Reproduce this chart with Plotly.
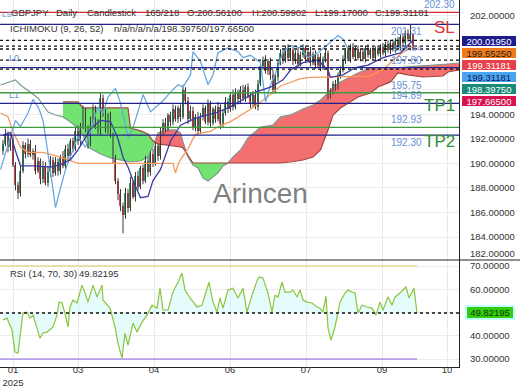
import plotly.graph_objects as go

FONT = "Liberation Sans"

# ---------------- data ----------------
first_open = 191.0
closes = [
    191.6, 192.4, 191.3, 191.9, 189.9, 188.2, 187.6, 189.4, 191.5, 190.8,
    191.6, 190.7, 191.0, 189.4, 190.2, 188.7, 189.8, 188.4, 189.3, 190.3,
    189.2, 190.1, 189.4, 190.5, 189.8, 191.2, 190.6, 191.8, 191.2, 192.6,
    191.8, 193.0, 194.3, 192.8, 191.6, 193.4, 194.5, 193.2, 192.6, 195.3,
    194.0, 192.8, 193.9, 192.3, 190.4, 188.6, 187.5, 186.5, 185.8, 187.6,
    186.4, 188.4, 187.3, 189.0, 188.1, 189.6, 188.6, 190.2, 189.3, 190.8,
    190.0, 191.4, 190.6, 192.4, 193.3, 192.8, 193.9, 193.4, 194.4, 193.6,
    194.5, 193.8, 196.0, 195.1, 193.6, 194.3, 193.0, 193.8, 192.6, 193.8,
    194.5, 193.4, 194.8, 193.3, 194.4, 193.6, 194.6, 193.2, 194.1, 195.0,
    194.4, 195.6, 194.6, 195.8, 195.2, 196.0, 195.3, 196.2, 195.5, 194.9,
    195.6, 194.6, 196.5, 197.9, 198.4, 197.5, 198.3, 197.2, 196.0, 197.0,
    198.2, 199.0, 198.4, 199.3, 198.6, 199.2, 198.3, 199.0, 198.1, 198.8,
    199.4, 198.5, 199.1, 198.2, 198.9, 198.0, 198.7, 197.8, 198.5, 199.0,
    195.6, 195.8, 196.5, 196.2, 197.2, 197.6, 198.4, 199.2, 198.5, 199.5,
    198.7, 199.3, 198.6, 199.1, 198.5, 199.4, 198.8, 199.2, 198.6, 199.3,
    198.9, 199.5, 199.0, 199.7, 199.2, 199.8, 199.3, 200.0, 199.5, 200.3,
    199.8, 200.6, 200.1, 200.561, 199.31181,
]
wick_up = [
    .3, .4, .2, .5, .3, .2, .3, .4, .3, .2, .4, .3, .2, .5, .3, .2, .4, .3, .5, .3,
    .2, .4, .3, .2, .5, .3, .4, .2, .3, .4, .5, .3, .4, .2, .3, .4, .3, .2, .4, .5,
    .3, .4, .2, .3, .2, .3, .2, .4, .3, .4, .3, .5, .2, .3, .4, .2, .3, .4, .3, .2,
    .4, .3, .2, .5, .3, .4, .2, .3, .4, .3, .2, .3, .4, .2, .3, .4, .3, .2, .4, .3,
    .3, .2, .4, .3, .2, .3, .4, .2, .3, .4, .3, .2, .4, .3, .2, .3, .4, .2, .3, .2,
    .3, .4, .3, .2, .3, .4, .2, .3, .4, .3, .2, .3, .2, .3, .4, .2, .3, .2, .4, .3,
    .3, .2, .3, .4, .2, .3, .2, .3, .2, .3, .2, .3, .2, .3, .2, .3, .4, .2, .3, .2,
    .3, .2, .3, .2, .3, .2, .3, .2, .3, .2, .3, .2, .3, .2, .3, .2, .3, .2, .3, .2,
    .3, .2, .3, .75, .038,
]
wick_dn = [
    .3, .2, .4, .3, .2, .4, .5, .3, .2, .4, .3, .2, .4, .3, .2, .4, .3, .2, .3, .4,
    .3, .2, .4, .3, .2, .3, .4, .2, .3, .2, .3, .4, .2, .3, .4, .2, .3, .4, .2, .3,
    .2, .3, .4, .2, .4, .3, .5, .4, 1.5, .3, .4, .3, .2, .4, .3, .2, .3, .2, .4, .3,
    .3, .2, .4, .3, .2, .3, .2, .4, .3, .2, .3, .4, .2, .3, .4, .2, .3, .4, .3, .2,
    .3, .2, .3, .4, .2, .3, .2, .4, .3, .2, .3, .2, .3, .2, .4, .3, .2, .3, .2, .4,
    .3, .2, .3, .2, .3, .2, .3, .4, .3, .2, .3, .2, .3, .2, .3, .2, .3, .2, .3, .2,
    .2, .3, .2, .3, .2, .3, .2, .3, .2, .3, .4, .3, .2, .3, .2, .3, .2, .3, .2, .3,
    .2, .3, .2, .3, .2, .3, .2, .3, .2, .3, .2, .3, .2, .3, .2, .3, .2, .3, .2, .3,
    .2, .3, .2, .2, .142,
]

# Ichimoku lines (bar index, price)
tenkan_x = [0, 3, 5, 7, 12, 19, 23, 27, 30, 35, 39, 43, 46, 48, 50, 52, 55, 58, 60, 63,
            67, 71, 75, 79, 85, 91, 96, 101, 107, 112, 115, 120, 126, 130, 131, 136, 141,
            146, 152, 159, 164]
tenkan_y = [192.3, 192.5, 191.0, 189.8, 189.8, 189.7, 189.9, 190.3, 191.1, 192.8, 193.5,
            193.4, 192.0, 190.5, 189.7, 188.6, 187.2, 187.3, 188.6, 189.5, 191.8, 193.1,
            193.5, 193.8, 194.1, 194.6, 195.2, 195.8, 196.2, 196.8, 197.6, 198.2, 198.4,
            197.6, 197.0, 197.2, 197.8, 198.0, 198.6, 199.0, 200.0195]
kijun_x = [-1, 2, 4, 7, 10, 16, 23, 30, 68, 69, 70, 71, 74, 77, 83, 87, 91, 95, 99, 103,
           107, 111, 115, 119, 123, 147, 153, 156, 161, 164]
kijun_y = [194.1, 193.8, 192.6, 191.3, 190.9, 190.9, 190.5, 190.0, 190.0, 189.2, 189.9,
           190.3, 191.2, 192.4, 192.6, 193.1, 193.4, 193.9, 194.4, 195.0, 195.6, 196.3,
           196.6, 196.9, 197.0, 197.1, 197.8, 198.4, 199.2, 199.5525]
chikou_x = [-1, 1, 3, 5, 7, 10, 12, 14, 15, 16, 18, 21, 23, 25, 28, 30, 33, 35, 38, 40,
            42, 45, 47, 50, 52, 55, 56, 59, 62, 64, 67, 70, 72, 75, 76, 79, 82, 84, 86,
            90, 94, 96, 99, 103, 105, 107, 110, 112, 115, 119, 122, 126, 130, 134, 136, 138]
chikou_y = [189.5, 190.8, 192.2, 193.5, 193.0, 194.1, 195.2, 194.6, 194.1, 193.5, 190.8,
            186.4, 188.0, 189.5, 191.1, 192.2, 191.3, 192.7, 194.6, 194.1, 195.4, 196.1,
            194.9, 192.1, 192.9, 194.9, 195.6, 194.2, 194.7, 195.1, 195.8, 196.4, 196.2,
            197.2, 199.1, 198.3, 196.4, 197.2, 199.0, 199.4, 199.1, 198.6, 198.8, 198.2,
            195.0, 196.4, 197.8, 199.1, 199.6, 199.4, 198.6, 199.0, 199.7, 200.4, 200.1,
            199.31181]
cloud_x = [-1, 3, 5, 7, 11, 14, 18, 21, 24, 27, 30, 32, 34, 39, 43, 47, 50, 51, 55, 58,
           60, 62, 65, 69, 71, 72, 74, 76, 78, 80, 82, 86, 88, 90, 92, 95, 98, 103, 108,
           111, 115, 120, 124, 127, 130, 132, 135, 138, 142, 147, 150, 155, 158, 162, 168,
           176, 178, 182.4]
span_a = [196.38, 196.63, 196.79, 196.38, 195.81, 195.32, 194.18, 193.94, 193.78, 193.37,
          192.88, 192.31, 191.33, 190.76, 190.44, 190.27, 190.19, 190.11, 190.19, 190.52,
          191.41, 192.47, 192.72, 192.72, 192.47, 191.74, 190.52, 189.87, 189.62, 188.81,
          188.56, 189.22, 189.79, 190.03, 190.52, 191.09, 192.07, 192.96, 193.12, 193.78,
          193.94, 194.43, 194.75, 195.16, 195.73, 196.22, 196.63, 196.95, 197.36, 197.77,
          197.77, 197.77, 197.77, 197.85, 197.93, 198.01, 198.09, 198.17]
span_b = [None, None, None, None, None, None, None, None, 195.00, 195.00,
          195.00, 194.51, 194.51, 194.51, 194.51, 194.51, 194.51, 192.88, 192.64, 192.39,
          191.82, 191.58, 191.50, 191.41, 191.33, 191.25, 190.68, 190.03, 190.03, 190.03,
          190.03, 190.03, 190.03, 190.03, 190.03, 190.03, 190.03, 190.03, 190.03, 190.03,
          190.11, 190.27, 190.52, 191.09, 192.72, 193.94, 194.51, 194.92, 195.40, 195.73,
          196.22, 196.63, 197.36, 197.20, 197.03, 197.11, 197.44, 197.60]

# RSI
rsi_x = [0, 1.6, 3.6, 4.8, 6, 7.6, 8, 9.6, 10.8, 12, 13.6, 14.8, 16, 17.6, 20, 21.6, 22.4,
         23.6, 24.8, 26, 26.8, 28, 29.6, 31.6, 32.8, 34, 36, 37.6, 39.6, 40, 42.8, 44.8, 46,
         47.6, 48.8, 50, 52, 53.6, 55.6, 57.6, 59.6, 61.6, 62.8, 64, 66, 68, 70, 71.6, 72.8,
         74.8, 77.6, 79.6, 80.8, 82.4, 84, 85.6, 86.8, 88, 90, 92, 94, 96, 97.6, 99.6, 102,
         102.8, 104, 106, 107.6, 108.8, 110, 111.6, 112.8, 114.8, 116, 117.6, 118.8, 120,
         121.6, 123.6, 125.6, 126.8, 128, 129.2, 130, 131.2, 132.8, 134.8, 136.8, 138,
         139.6, 140.8, 142, 143.6, 145.6, 147.6, 149.2, 150.8, 152, 154, 155.6, 156.8,
         158.8, 161.2, 162.4, 164.4, 165.6]
rsi_y = [46.8, 47.6, 42.5, 33.0, 32.6, 46.8, 49.8, 50.2, 47.6, 48.9, 43.8, 39.0, 41.2, 41.6,
         43.8, 48.9, 54.5, 54.1, 49.8, 43.8, 52.4, 55.4, 54.1, 61.8, 58.4, 54.5, 61.8, 56.7,
         61.8, 55.4, 51.9, 43.8, 36.9, 30.4, 41.2, 36.0, 45.5, 41.6, 45.9, 48.9, 53.2, 51.9,
         60.5, 51.1, 51.1, 58.8, 63.1, 67.0, 59.7, 56.3, 52.4, 53.2, 57.5, 63.1, 54.5, 50.2,
         56.3, 51.9, 59.7, 60.5, 56.3, 60.5, 50.2, 57.5, 64.8, 65.3, 64.8, 58.4, 50.2, 57.5,
         56.7, 63.1, 58.8, 58.8, 59.7, 56.7, 59.7, 55.4, 54.5, 54.1, 52.4, 51.9, 50.2, 57.1,
         43.3, 38.2, 43.8, 54.5, 58.4, 59.7, 58.8, 58.4, 49.8, 53.2, 52.4, 51.9, 48.9, 54.5,
         51.1, 56.7, 53.2, 56.7, 58.4, 61.0, 56.3, 60.5, 49.82195]
rsi_last = 49.82195
rsi_upper, rsi_lower = 70, 30

# levels
levels = [202.30, 201.31, 199.44, 197.80, 195.75, 194.89, 192.93, 192.30]
level_draw = [True, True, False, True, True, True, True, True]
level_colors = ["#d42a2a", "#22228a", "#22228a", "#22228a", "#3f9a3f", "#22228a", "#3f9a3f",
                "#22228a"]
level_texts = ["202.30", "201.31", "199.44", "197.80", "195.75", "194.89", "192.93", "192.30"]
level_label_xpx = [457, 424, 424, 424, 424, 424, 424, 424]
level_label_side = ["bottom", "top", "middle", "bottom", "bottom", "bottom", "bottom", "top"]
dotted_levels = [200.01950, 199.55250, 199.31181, 198.39750, 197.66500]
box_values = [200.01950, 199.55250, 199.31181, 199.31181, 198.39750, 197.66500]
box_bg = ["#1c1c8c", "#f07a1a", "#e8404a", "#4aa3f0", "#1a8a78", "#d8124c"]
box_fg = ["white", "#222222", "white", "#10204a", "white", "white"]
box_ypx = [41, 53, 65, 77, 89.5, 101.5]

# tick labels (those hidden behind the price boxes are blank)
price_ticks = [184, 186, 188, 190, 192, 194, 196, 198, 200, 202]
price_tick_text = ["184.00000", "186.00000", "188.00000", "190.00000", "192.00000",
                   "194.00000", "", "", "", "202.00000"]
rsi_ticks = [30, 40, 50, 60, 70]
rsi_tick_text = ["30.00000", "40.00000", "", "60.00000", "70.00000"]
month_pos = [4, 30, 60.4, 90.8, 121.2, 151.6, 177.6]
month_text = ["01<br>2025", "03", "04", "06", "07", "09", "10"]

header_tokens = ["GBPJPY", "Daily", "Candlestick", "165/218", "O:200.56100",
                 "H:200.59902", "L:199.17000", "C:199.31181"]
header_xpx = [9, 54, 85, 143, 185, 250, 313, 373]

# ---------------- derived ----------------
n = len(closes)
idx = list(range(n))
opens = [first_open] + closes[:-1]
highs = [max(o, c) + u for o, c, u in zip(opens, closes, wick_up)]
lows = [min(o, c) - d for o, c, d in zip(opens, closes, wick_dn)]

W, H = 520, 390
XR = [-1.2, 182.4]


def py(p):
    return 1 - p / H


def px(p):
    return p / W


fig = go.Figure()

# cloud fills
pts = [(x, a, b) for x, a, b in zip(cloud_x, span_a, span_b) if b is not None]
segs = []
sign = None
seg = []
for k, (x, a, b) in enumerate(pts):
    s = a >= b
    if sign is None:
        sign = s
        seg = [(x, a, b)]
    elif s == sign:
        seg.append((x, a, b))
    else:
        x0, a0, b0 = pts[k - 1]
        t = (a0 - b0) / ((a0 - b0) - (a - b))
        xc = x0 + t * (x - x0)
        yc = a0 + t * (a - a0)
        seg.append((xc, yc, yc))
        segs.append((sign, seg))
        seg = [(xc, yc, yc), (x, a, b)]
        sign = s
segs.append((sign, seg))
for s, sg in segs:
    xs = [p[0] for p in sg] + [p[0] for p in reversed(sg)]
    ys = [p[1] for p in sg] + [p[2] for p in reversed(sg)]
    fig.add_trace(go.Scatter(x=xs, y=ys, fill="toself", mode="lines",
                             line=dict(width=0),
                             fillcolor="rgba(243,104,104,0.95)" if s else "rgba(104,226,104,0.95)",
                             hoverinfo="skip"))

fig.add_trace(go.Scatter(x=cloud_x, y=span_a, mode="lines",
                         line=dict(color="#7f9a93", width=1.2)))
fig.add_trace(go.Scatter(x=cloud_x, y=span_b, mode="lines",
                         line=dict(color="#a5443c", width=1.2), connectgaps=False))

# candles: wicks then bodies
wx, wy = [], []
for i, hi, lo in zip(idx, highs, lows):
    wx += [i, i, None]
    wy += [lo, hi, None]
fig.add_trace(go.Scatter(x=wx, y=wy, mode="lines", line=dict(color="#3a3a3a", width=1)))
body_base = [min(o, c) for o, c in zip(opens, closes)]
body_h = [max(abs(c - o), 0.04) for o, c in zip(opens, closes)]
body_col = ["#2f9a68" if c >= o else "#e0474c" for o, c in zip(opens, closes)]
fig.add_trace(go.Bar(x=idx, y=body_h, base=body_base, width=0.75,
                     marker=dict(color=body_col, line=dict(width=0))))

# ichimoku lines
fig.add_trace(go.Scatter(x=kijun_x, y=kijun_y, mode="lines",
                         line=dict(color="#f39a5c", width=1.3)))
fig.add_trace(go.Scatter(x=chikou_x, y=chikou_y, mode="lines",
                         line=dict(color="#6aa8e0", width=1.3)))
fig.add_trace(go.Scatter(x=tenkan_x, y=tenkan_y, mode="lines",
                         line=dict(color="#3a3aa6", width=1.3)))

# RSI
fig.add_trace(go.Scatter(x=rsi_x, y=[rsi_last] * len(rsi_x), mode="lines",
                         line=dict(width=0), xaxis="x2", yaxis="y2", hoverinfo="skip"))
fig.add_trace(go.Scatter(x=rsi_x, y=rsi_y, mode="lines", fill="tonexty",
                         fillcolor="rgba(205,250,250,0.55)",
                         line=dict(color="#8cc43c", width=1.2), xaxis="x2", yaxis="y2"))
fig.add_trace(go.Scatter(x=[XR[0], rsi_x[-1]], y=[rsi_upper, rsi_upper], mode="lines",
                         line=dict(color="#e2d894", width=1.6), xaxis="x2", yaxis="y2"))
fig.add_trace(go.Scatter(x=[XR[0], rsi_x[-1]], y=[rsi_lower, rsi_lower], mode="lines",
                         line=dict(color="#b49ee8", width=1.6), xaxis="x2", yaxis="y2"))

shapes = []
for lv, col, draw in zip(levels, level_colors, level_draw):
    if draw:
        shapes.append(dict(type="line", xref="x domain", yref="y", x0=0, x1=1, y0=lv, y1=lv,
                           line=dict(color=col, width=1.3), layer="above"))
for lv in dotted_levels:
    shapes.append(dict(type="line", xref="x domain", yref="y", x0=0, x1=1, y0=lv, y1=lv,
                       line=dict(color="#111111", width=1.3, dash="dot"), layer="above"))
shapes.append(dict(type="line", xref="x2 domain", yref="y2", x0=0, x1=1, y0=rsi_last,
                   y1=rsi_last, line=dict(color="#111111", width=1.3, dash="dot"), layer="above"))
shapes.append(dict(type="line", xref="paper", yref="paper", x0=0, x1=1, y0=py(260), y1=py(260),
                   line=dict(color="#222222", width=1)))

ann = []
small = dict(family=FONT, size=9.5, color="#333333")
for t, xp in zip(header_tokens, header_xpx):
    ann.append(dict(text=t, x=px(xp), y=py(12), xref="paper", yref="paper",
                    xanchor="left", yanchor="middle", showarrow=False, font=small))
ann.append(dict(text="ICHIMOKU (9, 26, 52)", x=px(8), y=py(29), xref="paper", yref="paper",
                xanchor="left", yanchor="middle", showarrow=False, font=small))
ann.append(dict(text="n/a/n/a/n/a/198.39750/197.66500", x=px(112), y=py(29), xref="paper",
                yref="paper", xanchor="left", yanchor="middle", showarrow=False, font=small))
ann.append(dict(text="RSI (14, 70, 30)", x=px(8), y=py(273), xref="paper", yref="paper",
                xanchor="left", yanchor="middle", showarrow=False, font=small))
ann.append(dict(text="%.5f" % rsi_last, x=px(77), y=py(273), xref="paper", yref="paper",
                xanchor="left", yanchor="middle", showarrow=False, font=small))
# level labels
for lv, t, xp, side in zip(levels, level_texts, level_label_xpx, level_label_side):
    ann.append(dict(text=t, x=px(xp), y=lv, xref="paper", yref="y", xanchor="right",
                    yanchor=side, showarrow=False,
                    font=dict(family=FONT, size=9.5 if side == "middle" else 10,
                              color="#6b8fd4")))
for t, yp, xp, sz in [("LS", 15, 0, 8), ("L0", 58, 7, 9), ("L1", 95, 7, 9)]:
    ann.append(dict(text=t, x=px(xp), y=py(yp), xref="paper", yref="paper", xanchor="left",
                    yanchor="middle", showarrow=False,
                    font=dict(family=FONT, size=sz, color="#5b8fd0")))
for t, xp, yp, col in [("SL", 444, 28, "#e03535"), ("TP1", 439, 106, "#2f8f2f"),
                       ("TP2", 439, 141, "#2f8f2f")]:
    ann.append(dict(text=t, x=px(xp), y=py(yp), xref="paper", yref="paper", xanchor="center",
                    yanchor="middle", showarrow=False,
                    font=dict(family=FONT, size=17, color=col)))
ann.append(dict(text="Arincen", x=px(260), y=py(193), xref="paper", yref="paper",
                xanchor="center", yanchor="middle", showarrow=False,
                font=dict(family=FONT, size=28, color="rgba(110,110,110,0.9)")))
# right price boxes
for v, bg, fg, yp in zip(box_values, box_bg, box_fg, box_ypx):
    ann.append(dict(text="%.5f" % v, x=px(462), y=py(yp), xref="paper", yref="paper",
                    xanchor="left", yanchor="middle", showarrow=False, bgcolor=bg,
                    borderwidth=0, width=54, height=10, borderpad=0, align="center",
                    font=dict(family=FONT, size=9.5, color=fg)))
ann.append(dict(text="182.00000", x=px(468), y=py(253), xref="paper", yref="paper",
                xanchor="left", yanchor="middle", showarrow=False, font=small))
ann.append(dict(text="%.5f" % rsi_last, x=px(465), y=rsi_last, xref="paper", yref="y2",
                xanchor="left", yanchor="middle", showarrow=False, bgcolor="#33cc11",
                bordercolor="#c4ffff", borderwidth=2, width=46, height=11, borderpad=0,
                font=dict(family=FONT, size=9.5, color="#0f3a00")))

axis_font = dict(family=FONT, size=9.5, color="#333333")
fig.update_layout(
    width=W, height=H, margin=dict(l=0, r=0, t=0, b=0),
    paper_bgcolor="white", plot_bgcolor="white", showlegend=False,
    bargap=0,
    xaxis=dict(domain=[0, 459 / W], range=XR, anchor="y", showticklabels=False,
               tickvals=month_pos, showgrid=True, gridcolor="#e9e9e9", zeroline=False,
               showline=False, ticks=""),
    yaxis=dict(domain=[py(260), 1], range=[182.13, 203.3], side="right", anchor="x",
               tickvals=price_ticks, ticktext=price_tick_text, showgrid=True,
               gridcolor="#ececec", showline=True, linecolor="#222222", linewidth=1,
               ticks="", ticklabelstandoff=8, tickfont=axis_font, zeroline=False),
    xaxis2=dict(domain=[0, 459 / W], range=XR, anchor="y2", matches="x",
                tickvals=month_pos, ticktext=month_text, showgrid=True, gridcolor="#e9e9e9",
                showline=True, linecolor="#222222", linewidth=1, ticks="", zeroline=False,
                tickfont=axis_font, ticklabelstandoff=-6),
    yaxis2=dict(domain=[py(367), py(260)], range=[26.6, 72.6], side="right", anchor="x2",
                tickvals=rsi_ticks, ticktext=rsi_tick_text, showgrid=True, gridcolor="#ececec",
                showline=True, linecolor="#222222", linewidth=1, ticks="",
                ticklabelstandoff=8, tickfont=axis_font, zeroline=False),
    shapes=shapes, annotations=ann,
)

fig.write_html("out.html")
